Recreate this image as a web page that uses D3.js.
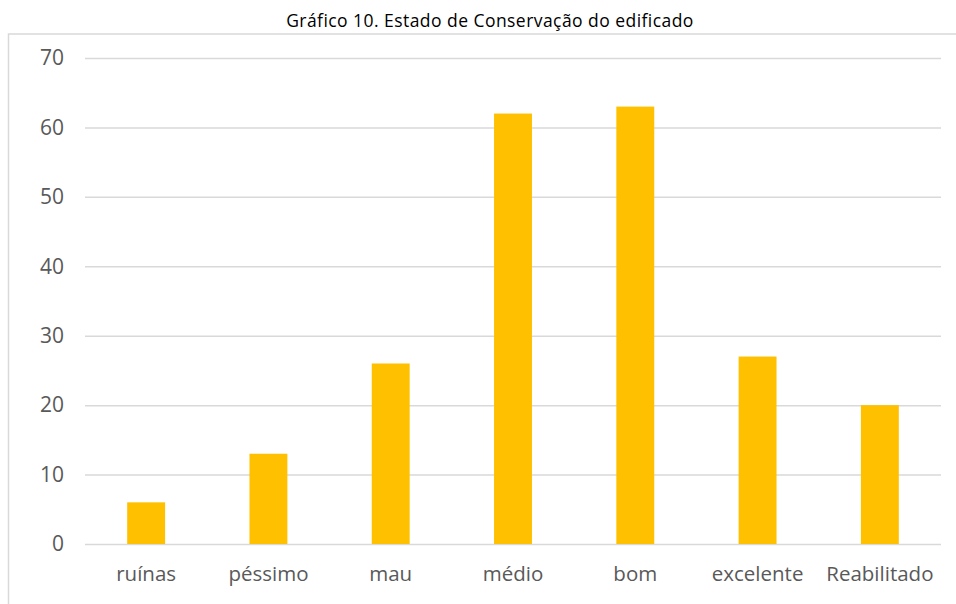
<!DOCTYPE html>
<html><head><meta charset="utf-8">
<script src="https://cdn.jsdelivr.net/npm/d3@7"></script>
<style>body{margin:0;background:#fff}</style>
</head><body>
<svg id="c" width="956" height="604"></svg>
<script>
const categories = ["ruínas","péssimo","mau","médio","bom","excelente","Reabilitado"];
const values = [6,13,26,62,63,27,20];
const yTicks = [0,10,20,30,40,50,60,70];
const title = "Gráfico 10. Estado de Conservação do edificado";

const svg = d3.select("#c");
const font = "'Open Sans', sans-serif";
const m = {left:85, right:941, top:58, bottom:544};

svg.append("rect").attr("x",8.5).attr("y",34).attr("width",1000).attr("height",700)
  .attr("fill","none").attr("stroke","#d9d9d9").attr("stroke-width",1.5);

svg.append("text").attr("x",490).attr("y",27).attr("text-anchor","middle")
  .attr("font-family",font).attr("font-size",17.5).attr("letter-spacing",0.45)
  .attr("fill","#000").text(title);

const x = d3.scaleBand().domain(categories).range([m.left,m.right]).paddingInner(0.69).paddingOuter(0.345);
const y = d3.scaleLinear().domain([0,70]).range([m.bottom,m.top]);

const yAxis = d3.axisLeft(y).tickValues(yTicks).tickSize(-(m.right-m.left)).tickPadding(21);
const gy = svg.append("g").attr("transform",`translate(${m.left},0)`).call(yAxis);
gy.select(".domain").remove();
gy.selectAll(".tick line").attr("stroke","#d9d9d9").attr("stroke-width",1.5);
gy.selectAll(".tick text").attr("font-family",font).attr("font-size",21).attr("fill","#595959");

svg.append("g").selectAll("rect").data(values).join("rect")
  .attr("x",(d,i)=>x(categories[i])).attr("width",x.bandwidth())
  .attr("y",d=>y(d)).attr("height",d=>y(0)-y(d)).attr("fill","#FFC000");

const xAxis = d3.axisBottom(x).tickSize(0).tickPadding(22);
const gx = svg.append("g").attr("transform",`translate(0,${m.bottom})`).call(xAxis);
gx.select(".domain").remove();
gx.selectAll(".tick text").attr("font-family",font).attr("font-size",20.5).attr("fill","#595959");
</script>
</body></html>
